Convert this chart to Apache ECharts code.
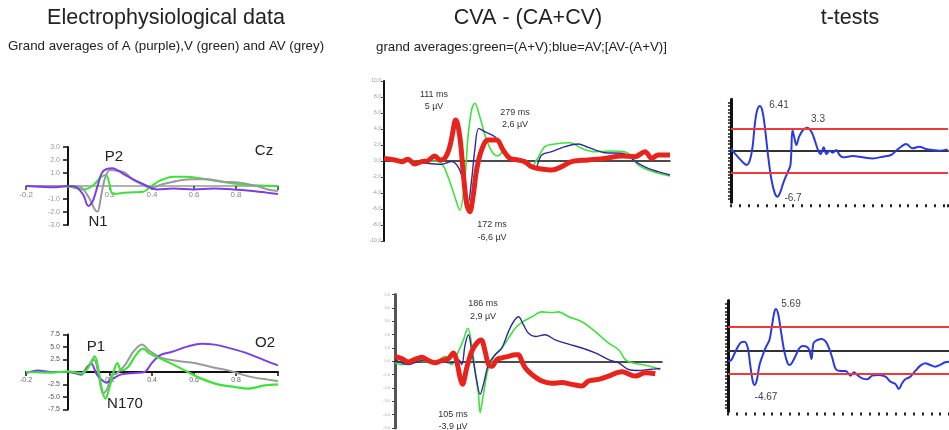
<!DOCTYPE html>
<html>
<head>
<meta charset="utf-8">
<script src="https://cdn.jsdelivr.net/npm/echarts@6/dist/echarts.min.js"></script>
<style>
html,body{margin:0;padding:0;background:#fff}
#main{width:949px;height:430px}
</style>
</head>
<body>
<div id="main"></div>
<script>
// ---- Cz (seconds, uV) ----
var czPurple = [[-0.2,0],[-0.133,-0.05],[-0.07,-0.1],[0,0],[0.041,-0.1],[0.073,-0.69],[0.097,-1.54],[0.117,-1.2],[0.14,-0.05],[0.16,0.97],[0.184,1.31],[0.213,1.36],[0.24,1.18],[0.271,0.85],[0.311,0.51],[0.343,0.26],[0.383,-0.05],[0.422,-0.26],[0.502,-0.2],[0.597,-0.26],[0.692,-0.2],[0.787,-0.26],[0.867,-0.36],[0.946,-0.51],[1.0,-0.62]];
var czGreen = [[-0.2,0],[-0.086,0],[0.01,-0.05],[0.065,-0.26],[0.097,-0.18],[0.129,0.2],[0.16,0.72],[0.181,0.85],[0.197,0.2],[0.213,-0.62],[0.248,-0.56],[0.311,-0.49],[0.359,-0.44],[0.398,0],[0.438,0.41],[0.502,0.72],[0.565,0.72],[0.629,0.59],[0.708,0.38],[0.787,0.2],[0.851,0.08],[0.93,0.03],[1.0,0]];
var czGrey = [[-0.2,0],[-0.086,0],[0,0],[0.057,-0.05],[0.097,-0.82],[0.129,-1.85],[0.141,-1.97],[0.157,-0.82],[0.176,0.59],[0.2,1.23],[0.232,1.18],[0.271,1.03],[0.311,0.46],[0.359,0.08],[0.398,-0.18],[0.438,0.08],[0.502,0.33],[0.581,0.51],[0.66,0.51],[0.74,0.33],[0.819,0.26],[0.898,0],[0.962,-0.31],[1.0,-0.38]];
var czYTicks = [3,2,1,-1,-2,-3];
var czYLabels = ['3.0','2.0','1.0','-1.0','-2.0','-3.0'];

// ---- O2 ----
var o2Purple = [[-0.2,-0.08],[-0.143,0.13],[-0.079,0],[0,0],[0.063,-0.21],[0.092,0.4],[0.111,0.67],[0.135,-0.13],[0.159,-0.61],[0.183,-0.85],[0.214,-0.53],[0.254,-0.19],[0.317,-0.08],[0.365,0],[0.397,0.67],[0.437,1.33],[0.492,1.6],[0.571,2.05],[0.635,2.27],[0.698,2.19],[0.778,1.87],[0.857,1.47],[0.937,0.93],[1.0,0.53]];
var o2Green = [[-0.2,0],[-0.079,-0.05],[0,0.05],[0.063,-0.13],[0.098,0.4],[0.127,1.25],[0.146,0.13],[0.159,-1.2],[0.178,-2.13],[0.198,-1.2],[0.219,0.13],[0.235,0.72],[0.254,0.13],[0.286,0.4],[0.317,1.2],[0.357,1.87],[0.389,1.47],[0.429,1.15],[0.492,0.67],[0.571,0],[0.635,-0.53],[0.714,-0.99],[0.794,-1.2],[0.857,-1.33],[0.937,-1.07],[1.0,-0.99]];
var o2Grey = [[-0.2,0],[0,0],[0.063,-0.08],[0.098,0.53],[0.124,0.99],[0.146,-0.27],[0.167,-1.73],[0.187,-1.33],[0.206,-0.27],[0.23,-0.13],[0.27,0.53],[0.31,1.6],[0.352,2.21],[0.389,1.68],[0.444,1.15],[0.524,0.88],[0.603,0.72],[0.683,0.4],[0.762,0.13],[0.825,-0.19],[0.889,-0.45],[0.952,-0.61],[1.0,-0.72]];
var o2YTicks = [3,2,1,-1,-2,-3];
var o2YLabels = ['7.5','5.0','2.5','-2.5','-5.0','-7.5'];
var eegXTicks = [-0.2,0.2,0.4,0.6,0.8];
var eegXLabels = ['-0.2','0.2','0.4','0.6','0.8'];

// ---- CVA top (ms, uV) ----
var cvaTopRed = [[-100,0.33],[-70,0.13],[-51,-0.08],[-33,0.21],[-14,-0.38],[5,-0.08],[23,0.04],[42,0.63],[56,0.13],[70,0.33],[84,1.79],[98,4.92],[101,5.13],[112,3.04],[121,-1.13],[131,-5.29],[140,-6.33],[149,-4.46],[159,-1.13],[173,1.38],[191,2.63],[215,2.63],[233,1.38],[252,0.33],[275,0.13],[294,-0.08],[313,-0.71],[341,-1.0],[369,-1.13],[397,-0.71],[425,-0.08],[471,0.13],[518,0.33],[565,0.63],[602,0.54],[630,1.17],[649,0.33],[667,0.75],[700,0.75]];
var cvaTopGreen = [[-100,0.33],[-42,0.13],[5,-0.08],[42,0],[61,-0.29],[79,-1.96],[98,-4.46],[112,-6.13],[126,-2.38],[135,3.04],[145,6.38],[154,7.21],[168,5.54],[187,2.63],[205,0.96],[219,0.63],[233,1.17],[247,0.46],[266,0.04],[294,0.13],[313,-0.71],[327,0.13],[350,1.79],[378,2.13],[420,2.29],[453,1.58],[490,1.17],[546,1.25],[583,0.96],[611,-0.5],[639,-1.13],[667,-1.54],[700,-1.88]];
var cvaTopBlue = [[-100,0.33],[-42,0.04],[5,-0.21],[61,-0.42],[89,-0.08],[107,-0.71],[121,-2.38],[135,-5.29],[145,-2.38],[154,1.38],[165,4.08],[182,3.67],[210,3.04],[229,2.0],[247,0.46],[275,0.04],[303,-0.5],[322,-0.92],[341,0.75],[369,1.17],[406,1.79],[443,2.13],[471,1.71],[518,1.04],[565,0.96],[611,-0.29],[639,-0.92],[667,-1.33],[700,-1.75]];
var cvaTopYLabels = ['-10,0','-8,0','-6,0','-4,0','-2,0','0,0','2,0','4,0','6,0','8,0','10,0'];

// ---- CVA bottom ----
var cvaBotRed = [[-100,0.37],[-80,0.2],[-60,-0.05],[-40,0.12],[-20,0.3],[0,0.05],[20,-0.12],[40,0.05],[60,0.2],[75,0.62],[85,0],[95,-1.23],[102,-1.73],[115,-0.49],[130,0.74],[145,1.36],[158,1.6],[170,0.74],[180,-0.25],[190,-0.37],[205,0.12],[220,0.25],[240,0.37],[260,0.49],[270,0.49],[280,0],[290,-0.49],[310,-0.99],[340,-1.48],[370,-1.65],[400,-1.6],[430,-1.73],[460,-1.85],[480,-1.48],[510,-1.36],[540,-1.11],[580,-0.79],[620,-1.11],[650,-0.86],[680,-0.94]];
var cvaBotGreen = [[-100,-0.12],[-80,-0.25],[-60,0],[-40,0.3],[-20,0],[20,-0.05],[50,0.37],[70,-0.25],[90,0.74],[105,1.6],[118,2.47],[130,1.23],[140,-0.74],[150,-2.47],[155,-3.83],[165,-2.47],[180,-0.49],[200,0.49],[220,0.99],[240,1.73],[260,2.47],[280,2.91],[310,3.33],[340,3.7],[370,3.65],[390,3.7],[420,3.33],[460,2.96],[500,2.22],[540,1.36],[570,0.86],[590,0.12],[610,-0.12],[640,-0.25],[680,-0.49],[695,-0.62]];
var cvaBotBlue = [[-100,0.12],[-60,-0.25],[-20,0.05],[40,-0.05],[70,-0.12],[90,0.12],[100,-0.25],[110,1.23],[120,1.98],[130,0.74],[145,-1.48],[155,-2.47],[165,-1.73],[180,-0.25],[200,0.49],[220,0.99],[240,2.22],[255,2.96],[270,3.33],[285,2.72],[300,2.1],[320,1.85],[350,1.98],[380,1.6],[420,1.28],[460,0.99],[500,0.62],[540,0.12],[570,-0.12],[600,-0.62],[630,-0.69],[660,-0.62],[695,-0.54]];
var cvaBotYLabels = ['-5,0','-4,0','-3,0','-2,0','-1,0','0,0','1,0','2,0','3,0','4,0','5,0'];

// ---- t-tests ----
var tTop = [[0,0.34],[10.5,-0.15],[33,-0.97],[55.5,-1.75],[70.5,-2.09],[85.5,-1.36],[97.5,0.58],[108,3.98],[118.5,5.92],[130.5,6.5],[142.5,5.68],[154.5,3.01],[168,-0.87],[183,-4.27],[198,-6.21],[210,-6.7],[223.5,-5.97],[235.5,-4.76],[253.5,-3.3],[268.5,-2.09],[277.5,3.01],[285,2.04],[295.5,0.83],[307.5,2.04],[325.5,3.01],[343.5,3.35],[363,2.77],[378,1.55],[393,0.1],[405,-0.49],[418.5,0.49],[430.5,-0.49],[445.5,0],[460.5,-0.29],[475.5,0.1],[490.5,-0.63],[505.5,-0.97],[550.5,-0.78],[595.5,-0.97],[640.5,-1.12],[685.5,-0.87],[723,-0.63],[745.5,0],[768,0.58],[790.5,0.97],[820.5,0.34],[850.5,0.58],[880.5,0.24],[910.5,0.1],[940.5,0],[978,0.19]];
var tBot = [[0,-1.45],[15,-1.31],[30,-0.37],[45,0.56],[60,1.17],[75,1.26],[90,0.33],[100.5,-2.0],[112.5,-4.34],[120,-4.8],[130.5,-4.1],[142.5,-2.0],[157.5,-0.61],[172.5,0.56],[187.5,1.49],[199.5,3.59],[210,5.45],[217.5,5.83],[228,4.99],[240,2.66],[255,-0.14],[270,-1.77],[280.5,-2.0],[292.5,-1.54],[307.5,-0.61],[322.5,0.33],[337.5,0.65],[355.5,0.56],[367.5,0.09],[378,-1.17],[387,1.03],[405,1.49],[424.5,1.63],[442.5,1.26],[457.5,0.33],[472.5,-1.07],[487.5,-2.56],[510,-2.84],[532.5,-2.84],[555,-3.5],[570,-3.03],[585,-3.4],[607.5,-3.87],[630,-4.01],[652.5,-3.5],[682.5,-3.4],[712.5,-3.64],[735,-4.34],[757.5,-4.66],[772.5,-5.36],[787.5,-4.57],[802.5,-4.01],[825,-3.64],[847.5,-2.84],[870,-2.1],[892.5,-1.77],[915,-2.0],[937.5,-2.24],[960,-2.0],[982.5,-1.63],[1000,-1.54]];
var tTopCrit = [3.25,-3.25];
var tBotCrit = [3.3,-3.3];

var PURPLE = '#7b3fe4', GREEN = '#3ee23a', GREY = '#9a9a9a', NAVY = '#2b2b9c', RED = '#e8231b', TBLUE = '#2a3adf';

function pick(ticks, labels) {
	return function (v) {
		for (var i = 0; i < ticks.length; i++) {
			if (Math.abs(ticks[i] - v) < 1e-6) return labels[i];
		}
		return '';
	};
}
function seq(lab) {
	return function (v, idx) { return lab[idx] || ''; };
}
function line(xi, yi, data, color, width) {
	return {
		type: 'line', xAxisIndex: xi, yAxisIndex: yi, data: data,
		showSymbol: false, smooth: 0.35, silent: true,
		lineStyle: { color: color, width: width }, z: 3
	};
}
function critLines(vals) {
	return { silent: true, symbol: 'none', label: { show: false },
		lineStyle: { color: '#f03a3a', width: 2, type: 'solid' },
		data: vals.map(function (v) { return { yAxis: v }; }) };
}

var myChart = echarts.init(document.getElementById('main'));
var font = 'Liberation Sans, Arial, sans-serif';
var noLine = { show: false };

var option = {
	animation: false,
	grid: [
		{ left: 26, top: 147, width: 252, height: 78 },
		{ left: 26, top: 334.5, width: 252, height: 75 },
		{ left: 384, top: 81, width: 286, height: 160 },
		{ left: 395, top: 294.5, width: 267, height: 135 },
		{ left: 731, top: 99.2, width: 217, height: 103 },
		{ left: 728, top: 300.6, width: 221, height: 110.8 }
	],
	xAxis: [
		// eeg panels: axis moved up to the zero level with offset so the labels follow it
		{ gridIndex: 0, type: 'value', min: -0.2, max: 1.0, interval: 0.2, offset: -39,
		  axisLine: { onZero: false, lineStyle: { color: '#999', width: 1.5 } },
		  axisTick: { length: 4, lineStyle: { color: '#333', width: 1.5 } },
		  axisLabel: { formatter: pick(eegXTicks, eegXLabels), fontSize: 8, color: '#888', margin: 5, fontFamily: font },
		  splitLine: noLine },
		{ gridIndex: 1, type: 'value', min: -0.2, max: 1.0, interval: 0.2, offset: -37.5,
		  axisLine: { onZero: false, lineStyle: { color: '#111', width: 2 } },
		  axisTick: { length: 4, lineStyle: { color: '#111', width: 1.5 } },
		  axisLabel: { formatter: pick(eegXTicks, eegXLabels), fontSize: 7, color: '#666', margin: 5, fontFamily: font },
		  splitLine: noLine },
		{ gridIndex: 2, type: 'value', min: -100, max: 700,
		  axisLine: { onZero: true, lineStyle: { color: '#111', width: 1.5 } },
		  axisTick: noLine, axisLabel: noLine, splitLine: noLine },
		{ gridIndex: 3, type: 'value', min: -100, max: 700,
		  axisLine: { onZero: true, lineStyle: { color: '#111', width: 1.5 } },
		  axisTick: noLine, axisLabel: noLine, splitLine: noLine },
		{ gridIndex: 4, type: 'value', min: 0, max: 980,
		  axisLine: { onZero: true, lineStyle: { color: '#333', width: 2 } },
		  axisTick: noLine, axisLabel: noLine, splitLine: noLine },
		{ gridIndex: 5, type: 'value', min: 0, max: 1000,
		  axisLine: { onZero: true, lineStyle: { color: '#333', width: 2 } },
		  axisTick: noLine, axisLabel: noLine, splitLine: noLine },
		{ gridIndex: 4, type: 'value', position: 'bottom', min: 0, max: 980, interval: 40, offset: 2,
		  axisLine: { show: false, onZero: false },
		  axisTick: { length: 3, lineStyle: { color: '#222', width: 2 } },
		  axisLabel: noLine, splitLine: noLine },
		{ gridIndex: 5, type: 'value', position: 'bottom', min: 0, max: 1000, interval: 40, offset: 1,
		  axisLine: { show: false, onZero: false },
		  axisTick: { length: 3, lineStyle: { color: '#222', width: 2 } },
		  axisLabel: noLine, splitLine: noLine }
	],
	yAxis: [
		{ gridIndex: 0, type: 'value', min: -3, max: 3, interval: 1, offset: -42,
		  axisLine: { show: true, onZero: false, lineStyle: { color: '#111', width: 2 } },
		  axisTick: { show: true, length: 5, lineStyle: { color: '#111', width: 1.5 } },
		  axisLabel: { formatter: pick(czYTicks, czYLabels), fontSize: 7, color: '#999', margin: 8, fontFamily: font },
		  splitLine: noLine },
		{ gridIndex: 1, type: 'value', min: -3, max: 3, interval: 1, offset: -42,
		  axisLine: { show: true, onZero: false, lineStyle: { color: '#111', width: 2 } },
		  axisTick: { show: true, length: 5, lineStyle: { color: '#111', width: 1.5 } },
		  axisLabel: { formatter: pick(o2YTicks, o2YLabels), fontSize: 7, color: '#555', margin: 8, fontFamily: font },
		  splitLine: noLine },
		{ gridIndex: 2, type: 'value', min: -10, max: 10, interval: 2,
		  axisLine: { show: true, onZero: false, lineStyle: { color: '#111', width: 2 } },
		  axisTick: { show: true, length: 3, lineStyle: { color: '#444' } },
		  axisLabel: { formatter: seq(cvaTopYLabels), fontSize: 5, color: '#999', margin: 3, fontFamily: font },
		  splitLine: noLine },
		{ gridIndex: 3, type: 'value', min: -5, max: 5, interval: 1,
		  axisLine: { show: true, onZero: false, lineStyle: { color: '#555', width: 3 } },
		  axisTick: { show: true, length: 3, lineStyle: { color: '#444' } },
		  axisLabel: { formatter: seq(cvaBotYLabels), fontSize: 4, color: '#aaa', margin: 5, fontFamily: font },
		  splitLine: noLine },
		{ gridIndex: 4, type: 'value', min: -7.5, max: 7.5, interval: 0.5,
		  axisLine: { show: true, onZero: false, lineStyle: { color: '#111', width: 3 } },
		  axisTick: { show: true, length: 3, lineStyle: { color: '#111', width: 1.5 } },
		  axisLabel: { formatter: function () { return '·'; }, fontSize: 6, color: '#aaa', margin: 2 },
		  splitLine: noLine },
		{ gridIndex: 5, type: 'value', min: -8.5, max: 7, interval: 0.5,
		  axisLine: { show: true, onZero: false, lineStyle: { color: '#111', width: 3 } },
		  axisTick: { show: true, length: 3, lineStyle: { color: '#111', width: 1.5 } },
		  axisLabel: { formatter: function () { return '·'; }, fontSize: 6, color: '#aaa', margin: 2 },
		  splitLine: noLine }
	],
	series: [
		line(0, 0, czGreen, GREEN, 2),
		line(0, 0, czGrey, GREY, 2),
		line(0, 0, czPurple, PURPLE, 2),
		line(1, 1, o2Grey, GREY, 2),
		line(1, 1, o2Purple, PURPLE, 2),
		line(1, 1, o2Green, GREEN, 2.2),
		line(2, 2, cvaTopGreen, GREEN, 1.6),
		line(2, 2, cvaTopBlue, NAVY, 1.4),
		line(2, 2, cvaTopRed, RED, 5),
		line(3, 3, cvaBotGreen, GREEN, 1.6),
		line(3, 3, cvaBotBlue, NAVY, 1.4),
		line(3, 3, cvaBotRed, RED, 5),
		Object.assign(line(4, 4, tTop, TBLUE, 2), { markLine: critLines(tTopCrit) }),
		Object.assign(line(5, 5, tBot, TBLUE, 2), { markLine: critLines(tBotCrit) })
	],
	graphic: [
		{ type: 'text', x: 166, y: 18, style: { text: 'Electrophysiological data', font: '21.5px ' + font, fill: '#222', textAlign: 'center', textVerticalAlign: 'middle' } },
		{ type: 'text', x: 528, y: 18, style: { text: 'CVA - (CA+CV)', font: '21.5px ' + font, fill: '#222', textAlign: 'center', textVerticalAlign: 'middle' } },
		{ type: 'text', x: 850, y: 18, style: { text: 't-tests', font: '21.5px ' + font, fill: '#222', textAlign: 'center', textVerticalAlign: 'middle' } },
		{ type: 'text', x: 8, y: 46, style: { text: 'Grand averages of A (purple),V (green) and AV (grey)', font: '13.3px ' + font, fill: '#222', textVerticalAlign: 'middle' } },
		{ type: 'text', x: 376, y: 47, style: { text: 'grand averages:green=(A+V);blue=AV;[AV-(A+V)]', font: '13.3px ' + font, fill: '#222', textVerticalAlign: 'middle' } },

		{ type: 'text', x: 264, y: 151, style: { text: 'Cz', font: '15px ' + font, fill: '#222', textAlign: 'center', textVerticalAlign: 'middle' } },
		{ type: 'text', x: 114, y: 157, style: { text: 'P2', font: '15px ' + font, fill: '#222', textAlign: 'center', textVerticalAlign: 'middle' } },
		{ type: 'text', x: 98, y: 222, style: { text: 'N1', font: '15px ' + font, fill: '#222', textAlign: 'center', textVerticalAlign: 'middle' } },
		{ type: 'text', x: 265, y: 343, style: { text: 'O2', font: '15px ' + font, fill: '#222', textAlign: 'center', textVerticalAlign: 'middle' } },
		{ type: 'text', x: 96, y: 347, style: { text: 'P1', font: '15px ' + font, fill: '#222', textAlign: 'center', textVerticalAlign: 'middle' } },
		{ type: 'text', x: 125, y: 404, style: { text: 'N170', font: '15px ' + font, fill: '#222', textAlign: 'center', textVerticalAlign: 'middle' } },

		{ type: 'text', x: 434, y: 89, style: { text: '111 ms\n5 µV', font: '9px ' + font, lineHeight: 12, fill: '#333', textAlign: 'center', textVerticalAlign: 'top' } },
		{ type: 'text', x: 515, y: 107, style: { text: '279 ms\n2,6 µV', font: '9px ' + font, lineHeight: 12, fill: '#333', textAlign: 'center', textVerticalAlign: 'top' } },
		{ type: 'text', x: 492, y: 218, style: { text: '172 ms\n-6,6 µV', font: '9px ' + font, lineHeight: 13, fill: '#333', textAlign: 'center', textVerticalAlign: 'top' } },
		{ type: 'text', x: 483, y: 297, style: { text: '186 ms\n2,9 µV', font: '9px ' + font, lineHeight: 13, fill: '#333', textAlign: 'center', textVerticalAlign: 'top' } },
		{ type: 'text', x: 453, y: 409, style: { text: '105 ms\n-3,9 µV', font: '9px ' + font, lineHeight: 12, fill: '#333', textAlign: 'center', textVerticalAlign: 'top' } },

		{ type: 'text', x: 779, y: 105, style: { text: '6.41', font: '10px ' + font, fill: '#444', textAlign: 'center', textVerticalAlign: 'middle' } },
		{ type: 'text', x: 818, y: 119, style: { text: '3.3', font: '10px ' + font, fill: '#444', textAlign: 'center', textVerticalAlign: 'middle' } },
		{ type: 'text', x: 793, y: 198, style: { text: '-6.7', font: '10px ' + font, fill: '#444', textAlign: 'center', textVerticalAlign: 'middle' } },
		{ type: 'text', x: 791, y: 304, style: { text: '5.69', font: '10px ' + font, fill: '#444', textAlign: 'center', textVerticalAlign: 'middle' } },
		{ type: 'text', x: 766, y: 397, style: { text: '-4.67', font: '10px ' + font, fill: '#444', textAlign: 'center', textVerticalAlign: 'middle' } }
	]
};
myChart.setOption(option);
</script>
</body>
</html>
